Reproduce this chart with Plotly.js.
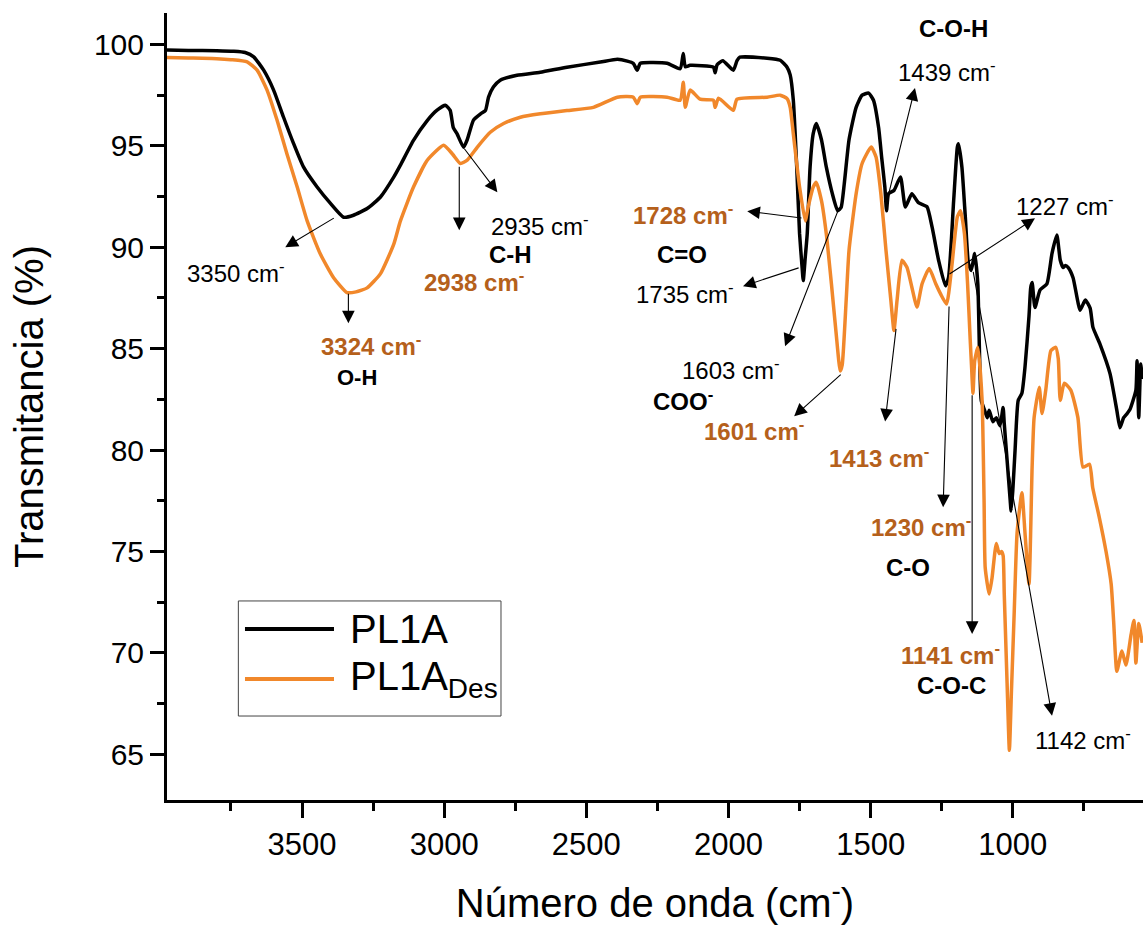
<!DOCTYPE html>
<html>
<head>
<meta charset="utf-8">
<script src="https://cdn.plot.ly/plotly-3.0.1.min.js"></script>
<style>html,body{margin:0;padding:0;background:#fff;}</style>
</head>
<body>
<div id="chart" style="width:1143px;height:930px;"></div>
<script>
// ---- Data ----
const wnPL1A = [3975,3900,3800,3740,3700,3670,3635,3600,3565,3530,3495,3447,3400,3354,3319,3271,3224,3177,3154,3108,3059,3025,2996,2979,2968,2955,2932,2919,2897,2872,2855,2844,2827,2803,2744,2662,2568,2451,2391,2356,2335,2321,2310,2216,2170,2159,2152,2135,2053,2047,2040,2020,1983,1970,1960,1864,1818,1794,1783,1772,1760,1750,1741,1737,1730,1723,1713,1702,1691,1673,1656,1634,1616,1604,1593,1576,1551,1530,1507,1490,1472,1461,1450,1444,1437,1418,1395,1378,1355,1332,1302,1284,1261,1237,1226,1208,1195,1191,1179,1167,1156,1146,1134,1123,1111,1100,1090,1083,1070,1058,1045,1034,1030,1020,1009,1006,1000,992,981,968,957,943,937,932,922,904,880,862,845,833,823,815,805,788,763,745,728,718,694,658,634,623,610,598,588,567,563,557,550,545];
const tPL1A  = [99.72,99.70,99.69,99.66,99.60,99.39,98.73,97.75,96.41,95.12,93.96,92.97,92.16,91.48,91.58,91.91,92.48,93.47,94.05,95.27,96.26,96.76,97.0,96.75,95.9,95.6,94.93,95.3,96.27,96.58,96.74,97.4,97.9,98.24,98.48,98.63,98.88,99.13,99.27,99.18,99.07,98.73,99.07,99.07,98.8,99.55,98.9,98.97,98.88,98.6,99.0,99.2,98.73,99.2,99.37,99.32,99.22,98.88,98.5,97.25,93.96,90.67,89.0,88.36,89.5,90.67,93.96,95.6,96.1,95.3,93.96,92.6,91.8,91.96,93.1,95.3,96.9,97.5,97.6,97.25,95.9,94.4,92.97,91.8,92.64,92.8,93.47,91.98,92.64,92.2,92.0,91.0,89.36,88.1,88.5,92.3,94.94,95.1,93.96,91.5,89.2,88.86,89.69,88.2,82.45,82.0,81.6,81.96,81.4,81.6,81.2,82.1,81.3,79.5,77.5,77.0,78.0,80.0,82.45,82.8,84.1,86.6,88.0,88.26,87.03,87.9,88.2,89.7,90.6,89.36,89.0,89.1,89.0,88.5,86.9,87.4,87.0,86.05,85.25,83.77,81.96,81.1,81.6,81.8,82.0,82.95,84.4,81.6,84.25,83.5];

const wnDes = [3975,3900,3800,3750,3693,3658,3623,3588,3553,3517,3482,3436,3389,3342,3310,3271,3224,3177,3154,3108,3059,3002,2971,2943,2919,2884,2838,2791,2732,2662,2568,2475,2391,2335,2321,2310,2216,2170,2159,2152,2135,2100,2053,2047,2035,1983,1970,1864,1818,1794,1783,1772,1750,1730,1720,1702,1691,1673,1656,1638,1621,1607,1600,1586,1576,1551,1530,1498,1481,1464,1446,1429,1418,1407,1390,1372,1355,1337,1319,1294,1271,1254,1233,1215,1195,1184,1170,1159,1150,1145,1140,1134,1123,1108,1101,1097,1083,1073,1058,1048,1040,1034,1030,1020,1012,1005,995,985,968,957,943,932,925,907,897,884,866,849,840,833,819,796,771,753,730,719,696,672,654,645,634,616,602,584,574,567,557,545];
const tDes  = [99.35,99.33,99.30,99.25,99.14,98.73,97.75,96.27,94.6,92.97,91.3,89.68,88.5,87.77,87.8,88.0,88.7,90.17,91.3,92.97,94.3,95.03,94.6,94.13,94.3,94.93,95.67,96.1,96.41,96.58,96.74,96.9,97.4,97.4,97.08,97.4,97.4,97.25,98.14,96.9,97.75,97.3,97.25,96.9,97.35,96.75,97.3,97.4,97.5,97.33,96.9,95.6,92.97,91.3,91.97,92.97,93.2,92.3,90.67,88.2,85.7,83.9,84.2,87.4,89.85,92.64,94.13,94.94,94.45,92.64,89.85,87.4,85.9,87.4,89.36,89.0,88.03,87.05,88.2,88.95,88.2,87.7,87.2,89.0,91.5,91.8,90.67,88.2,85.5,84.1,82.8,84.4,85.07,82.45,77.5,74.2,72.9,73.7,75.4,74.9,75.0,74.8,72.9,68.5,65.2,68.0,72.0,75.9,77.9,75.9,73.4,79.16,81.6,83.1,81.8,82.96,84.9,85.07,84.5,82.45,83.3,82.96,81.6,79.16,79.3,78.16,76.7,75.0,73.4,71.5,69.1,70.1,69.4,70.9,71.6,69.5,71.45,70.5];

const seriesNames = ['PL1A', 'PL1A<sub>Des</sub>'];
const xTickVals = [3500, 3000, 2500, 2000, 1500, 1000];
const yTickVals = [65, 70, 75, 80, 85, 90, 95, 100];

// ---- Styling ----
const FONT = 'Liberation Sans, Arial, Helvetica, sans-serif';
const C_BLACK = '#000000';
const C_ORANGE = '#F1882B';
const C_LABEL_OR = '#B5601B';

const traces = [
  {x: wnPL1A, y: tPL1A, type: 'scatter', mode: 'lines', name: seriesNames[0],
   line: {color: C_BLACK, width: 3.5, shape: 'spline', smoothing: 0.5}, showlegend: false},
  {x: wnDes, y: tDes, type: 'scatter', mode: 'lines', name: seriesNames[1],
   line: {color: C_ORANGE, width: 3.5, shape: 'spline', smoothing: 0.5}, showlegend: false}
];

// arrows: [headX, headY, tailX, tailY] in data units
const arrows = [
  [3559, 90.0, 3383, 91.48],
  [3337, 86.25, 3337, 87.78],
  [2947, 90.84, 2947, 94.05],
  [2813, 92.71, 2933, 94.93],
  [1934, 91.78, 1738, 91.43],
  [1949, 88.08, 1748, 89.01],
  [1801, 85.12, 1614, 91.83],
  [1769, 81.67, 1600, 83.79],
  [1344, 97.85, 1449, 91.93],
  [1449, 81.41, 1410, 86.05],
  [922, 91.43, 1228, 88.63],
  [1245, 77.18, 1224, 87.15],
  [1143, 70.94, 1143, 82.78],
  [862, 66.9, 1140, 88.86]
];
// labels: [text, x, y, style]  n = normal black, o = bold orange, b = bold black
const labels = [
  ['3350 cm<sup>-</sup>', 3731, 88.77, 'n'],
  ['3324 cm<sup>-</sup>', 3256, 85.17, 'o'],
  ['O-H', 3305, 83.59, 'b', 22],
  ['2935 cm<sup>-</sup>', 2662, 91.09, 'n'],
  ['C-H', 2768, 89.62, 'b'],
  ['2938 cm<sup>-</sup>', 2894, 88.33, 'o'],
  ['1728 cm<sup>-</sup>', 2159, 91.63, 'o'],
  ['C=O', 2163, 89.66, 'b'],
  ['1735 cm<sup>-</sup>', 2152, 87.73, 'n'],
  ['1603 cm<sup>-</sup>', 1991, 83.98, 'n'],
  ['COO<sup>-</sup>', 2159, 82.45, 'b'],
  ['1601 cm<sup>-</sup>', 1910, 80.97, 'o'],
  ['1413 cm<sup>-</sup>', 1470, 79.64, 'o'],
  ['1230 cm<sup>-</sup>', 1322, 76.24, 'o'],
  ['C-O', 1368, 74.22, 'b'],
  ['1141 cm<sup>-</sup>', 1220, 69.93, 'o'],
  ['C-O-C', 1217, 68.4, 'b'],
  ['1142 cm<sup>-</sup>', 753, 65.74, 'n'],
  ['1439 cm<sup>-</sup>', 1231, 98.68, 'n'],
  ['C-O-H', 1210, 100.8, 'b'],
  ['1227 cm<sup>-</sup>', 816, 92.08, 'n']
];

const annotations = [];
arrows.forEach(a => annotations.push({
  x: a[0], y: a[1], ax: a[2], ay: a[3], xref: 'x', yref: 'y', axref: 'x', ayref: 'y',
  text: '', showarrow: true, arrowhead: 2, arrowsize: 2.3, arrowwidth: 1.1, arrowcolor: '#000', standoff: 0
}));
labels.forEach(l => {
  const st = l[3];
  const txt = st === 'n' ? l[0] : '<b>' + l[0] + '</b>';
  annotations.push({
    x: l[1], y: l[2], xref: 'x', yref: 'y', text: txt, showarrow: false,
    xanchor: 'center', yanchor: 'middle',
    font: {family: FONT, size: l[4] || 24, color: st === 'o' ? C_LABEL_OR : '#000'}
  });
});

// manual legend (paper coordinates)
const legendBox = {x0: 0.0731, x1: 0.3422, y0: 0.1067, y1: 0.2529};
const shapes = [
  {type: 'rect', xref: 'paper', yref: 'paper', x0: legendBox.x0, x1: legendBox.x1, y0: legendBox.y0, y1: legendBox.y1,
   line: {color: '#444', width: 1}, fillcolor: 'rgba(255,255,255,0)'},
  {type: 'line', xref: 'paper', yref: 'paper', x0: 0.0799, x1: 0.1711, y0: 0.2173, y1: 0.2173,
   line: {color: C_BLACK, width: 4}},
  {type: 'line', xref: 'paper', yref: 'paper', x0: 0.0799, x1: 0.1711, y0: 0.1537, y1: 0.1537,
   line: {color: C_ORANGE, width: 4}}
];
annotations.push({xref: 'paper', yref: 'paper', x: 0.1855, y: 0.2173, xanchor: 'left', yanchor: 'middle',
  text: seriesNames[0], showarrow: false, font: {family: FONT, size: 40, color: '#000'}});
annotations.push({xref: 'paper', yref: 'paper', x: 0.1855, y: 0.1537, xanchor: 'left', yanchor: 'middle',
  text: seriesNames[1], showarrow: false, font: {family: FONT, size: 40, color: '#000'}});

const layout = {
  width: 1143, height: 930,
  margin: {l: 167, r: 0, t: 13, b: 130, pad: 0},
  paper_bgcolor: '#fff', plot_bgcolor: '#fff',
  font: {family: FONT, color: '#000'},
  showlegend: false,
  xaxis: {
    range: [3975, 542], showline: true, linewidth: 3, linecolor: '#000',
    ticks: 'outside', ticklen: 15, tickwidth: 3, tickcolor: '#000',
    tickmode: 'array', tickvals: xTickVals, tickfont: {family: FONT, size: 31, color: '#000'},
    minor: {ticks: 'outside', ticklen: 8, tickwidth: 3, tickcolor: '#000', dtick: 250, tick0: 0, showgrid: false},
    showgrid: false, zeroline: false,
    title: {text: 'Número de onda (cm<sup>-</sup>)', font: {family: FONT, size: 40, color: '#000'}, standoff: 28}
  },
  yaxis: {
    range: [62.75, 101.55], showline: true, linewidth: 3, linecolor: '#000',
    ticks: 'outside', ticklen: 14, tickwidth: 3, tickcolor: '#000',
    tickmode: 'array', tickvals: yTickVals, tickfont: {family: FONT, size: 30, color: '#000'},
    minor: {ticks: 'outside', ticklen: 7, tickwidth: 3, tickcolor: '#000', dtick: 2.5, tick0: 0, showgrid: false},
    showgrid: false, zeroline: false,
    title: {text: 'Transmitancia (%)', font: {family: FONT, size: 40, color: '#000'}, standoff: 38}
  },
  annotations: annotations,
  shapes: shapes
};

Plotly.newPlot('chart', traces, layout, {displayModeBar: false, responsive: false});
</script>
</body>
</html>
